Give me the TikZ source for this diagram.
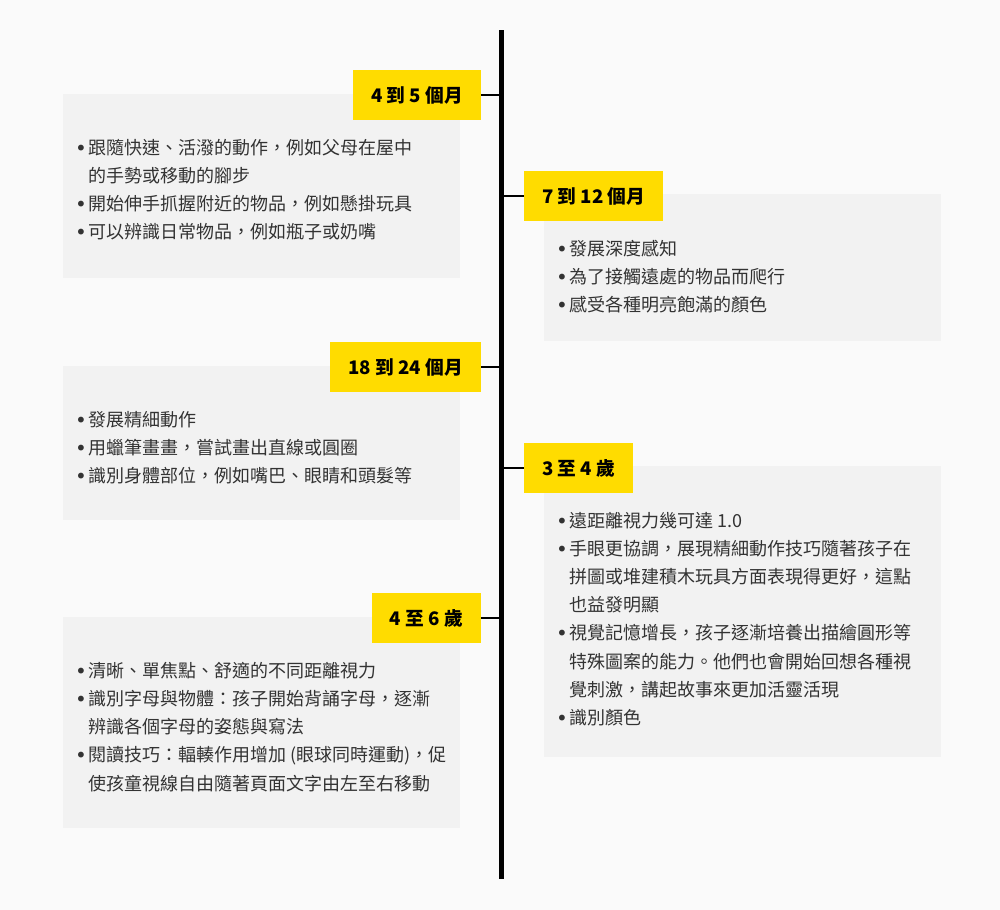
\documentclass[tikz,border=0pt]{standalone}
\usepackage{fontspec}
\setmainfont{Noto Sans CJK TC}
\newfontfamily\dotfont{DejaVu Sans}
\usepackage{tikz}
\usetikzlibrary{positioning}

\definecolor{pagebg}{HTML}{FAFAFA}
\definecolor{cardbg}{HTML}{F2F2F2}
\definecolor{tagyellow}{HTML}{FFDC00}
\definecolor{bodytext}{HTML}{333333}

\newcommand{\bul}{\makebox[8.4pt][l]{\hspace*{-1.6pt}\raisebox{-0.6pt}{\dotfont\fontsize{15pt}{15pt}\selectfont •}}}
\newcommand{\ind}{\hspace*{8.4pt}}

\begin{document}
\begin{tikzpicture}[x=0.75pt,y=-0.75pt,
		card/.style={rectangle, fill=cardbg, minimum width=297.75pt, anchor=north west, inner sep=0pt},
		tag/.style={rectangle, fill=tagyellow, minimum height=37.5pt, inner xsep=13.5pt, inner ysep=0pt, font=\fontsize{14pt}{16pt}\selectfont\bfseries},
		items/.style={anchor=north west, inner sep=0pt, align=left, text=bodytext, font=\fontsize{13.5pt}{21.1pt}\selectfont},
		link/.style={line width=1.5pt}]
		\fill[pagebg] (0,0) rectangle (1000,910);
		\useasboundingbox (0,0) rectangle (1000,910);
		% spine
		\coordinate (top) at (501.5,30);
		\coordinate (bottom) at (501.5,879);
		\draw[line width=3.75pt] (top) -- (bottom);
		% cards
		\node[card, minimum height=138pt] (card1) at (63,94) {};
		\node[card, minimum height=110.25pt] (card2) at (544,194) {};
		\node[card, minimum height=115.5pt] (card3) at (63,366) {};
		\node[card, minimum height=218.25pt] (card4) at (544,466) {};
		\node[card, minimum height=158.25pt] (card5) at (63,617) {};
		% tags
		\node[tag, anchor=east] (tag1) at (481,95) {4 到 5 個月};
		\node[tag, anchor=west] (tag2) at (524,196) {7 到 12 個月};
		\node[tag, anchor=east] (tag3) at (481,367) {18 到 24 個月};
		\node[tag, anchor=west] (tag4) at (524,468) {3 至 4 歲};
		\node[tag, anchor=east] (tag5) at (481,618) {4 至 6 歲};
		\draw[link] (tag1.east) -- (tag1.east -| top);
		\draw[link] (tag2.west) -- (tag2.west -| top);
		\draw[link] (tag3.east) -- (tag3.east -| top);
		\draw[link] (tag4.west) -- (tag4.west -| top);
		\draw[link] (tag5.east) -- (tag5.east -| top);
		% items
		\node[items] (list1) at (77,139) {\bul 跟隨快速、活潑的動作，例如父母在屋中\\
			\ind 的手勢或移動的腳步\\
			\bul 開始伸手抓握附近的物品，例如懸掛玩具\\
			\bul 可以辨識日常物品，例如瓶子或奶嘴};
		\node[items] (list2) at (558,240) {\bul 發展深度感知\\
			\bul 為了接觸遠處的物品而爬行\\
			\bul 感受各種明亮飽滿的顏色};
		\node[items] (list3) at (77,411) {\bul 發展精細動作\\
			\bul 用蠟筆畫畫，嘗試畫出直線或圓圈\\
			\bul 識別身體部位，例如嘴巴、眼睛和頭髮等};
		\node[items] (list4) at (558,512) {\bul 遠距離視力幾可達 1.0\\
			\bul 手眼更協調，展現精細動作技巧隨著孩子在\\
			\ind 拼圖或堆建積木玩具方面表現得更好，這點\\
			\ind 也益發明顯\\
			\bul 視覺記憶增長，孩子逐漸培養出描繪圓形等\\
			\ind 特殊圖案的能力。他們也會開始回想各種視\\
			\ind 覺刺激，講起故事來更加活靈活現\\
			\bul 識別顏色};
		\node[items] (list5) at (77,662) {\bul 清晰、單焦點、舒適的不同距離視力\\
			\bul 識別字母與物體：孩子開始背誦字母，逐漸\\
			\ind 辨識各個字母的姿態與寫法\\
			\bul 閱讀技巧：輻輳作用增加 (眼球同時運動)，促\\
			\ind 使孩童視線自由隨著頁面文字由左至右移動};
\end{tikzpicture}
\end{document}
